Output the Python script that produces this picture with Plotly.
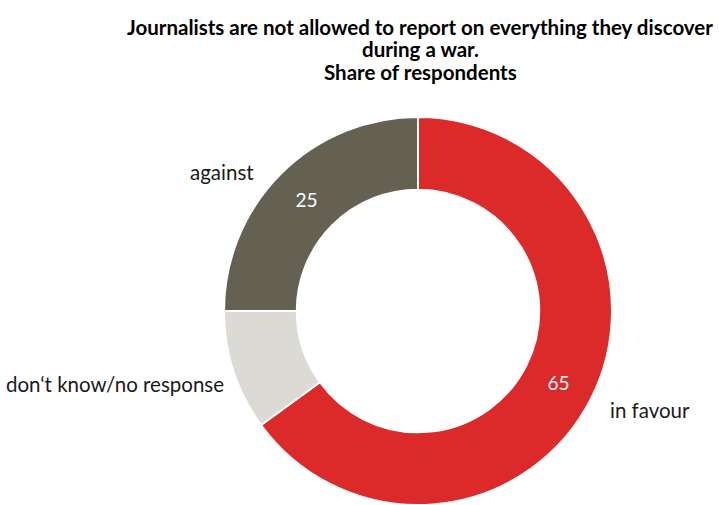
import plotly.graph_objects as go

# Survey answers
categories = ["in favour", "don't know/no response", "against"]
shares = [65, 10, 25]
value_labels = ["65", "", "25"]

title_lines = [
    "Journalists are not allowed to report on everything they discover",
    "during a war.",
    "Share of respondents",
]

colors = ["#dc2a2a", "#dcdad5", "#656152"]

W, H = 719, 505

# Donut placement in pixels: centre and outer radius
cx, cy, r = 418, 311, 194

fig = go.Figure()
fig.add_trace(go.Pie(
    labels=categories,
    values=shares,
    text=value_labels,
    texttemplate="%{text}",
    textinfo="text",
    textposition="inside",
    insidetextorientation="horizontal",
    textfont=dict(family="Lato", size=19, color="white"),
    hole=0.625,
    sort=False,
    direction="clockwise",
    rotation=0,
    marker=dict(colors=colors, line=dict(color="white", width=2)),
    domain=dict(x=[(cx - r) / W, (cx + r) / W], y=[(H - cy - r) / H, (H - cy + r) / H]),
    showlegend=False,
    hoverinfo="label+value",
))

# Category names beside the ring (pixel anchor, alignment)
label_anchors = {
    "in favour": (608, 410, "left"),
    "don't know/no response": (226, 384, "right"),
    "against": (256, 172, "right"),
}
for name in categories:
    px, py, side = label_anchors[name]
    fig.add_annotation(
        x=px / W, y=1 - py / H, xref="paper", yref="paper",
        text=name.replace("'", "\u2018"), showarrow=False,
        xanchor=side, yanchor="middle",
        font=dict(family="Lato", size=20.5, color="#1a1a1a"),
    )

# Title, one line per annotation for tight line spacing
title_y = [27, 49, 72]
for line, ty in zip(title_lines, title_y):
    fig.add_annotation(
        x=420 / W, y=1 - ty / H, xref="paper", yref="paper",
        text=f"<b>{line}</b>", showarrow=False,
        xanchor="center", yanchor="middle",
        font=dict(family="Lato", size=20.5, color="black"),
    )

fig.update_layout(
    width=W, height=H,
    margin=dict(l=0, r=0, t=0, b=0),
    paper_bgcolor="white",
    plot_bgcolor="white",
)

fig.write_html("out.html")
